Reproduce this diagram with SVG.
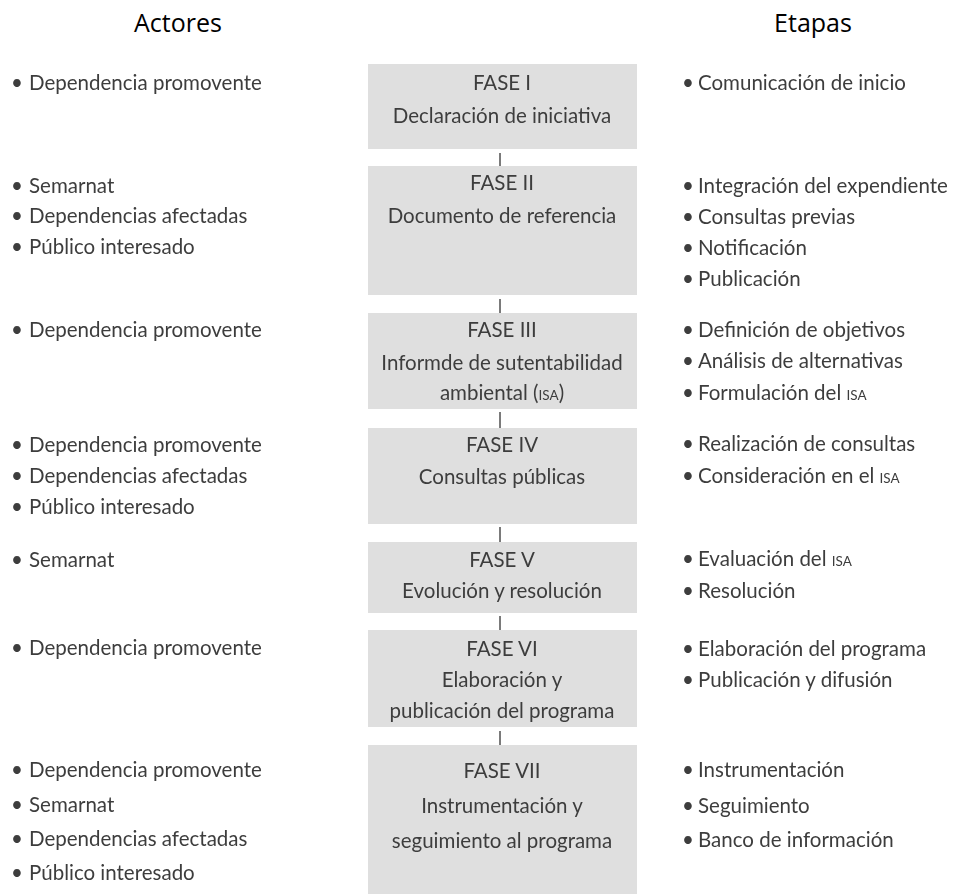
<svg xmlns="http://www.w3.org/2000/svg" width="956" height="894" viewBox="0 0 956 894">
  <defs>
    <filter id="soft" x="-5%" y="-5%" width="110%" height="110%">
      <feGaussianBlur stdDeviation="0.55"/>
    </filter>
  </defs>
  <style>
    .head { font-family: "Open Sans", "Liberation Sans", sans-serif; font-size: 25px; fill: #000; text-anchor: middle; }
    .box { fill: #dfdfdf; }
    .t { font-family: Lato, "Liberation Sans", sans-serif; font-size: 20.5px; fill: #3d3d3d; }
    .c { text-anchor: middle; }
    .sc { font-size: 13.5px; }
    .link { stroke: #5a5a5a; stroke-width: 1.6; fill: none; }
  </style>

  <rect width="956" height="894" fill="#fff"/>

  <!-- column headings -->
  <text class="head" x="178" y="32">Actores</text>
  <text class="head" x="813" y="32">Etapas</text>

  <g filter="url(#soft)">
    <!-- connectors between phases -->
    <g id="connectors">
      <line class="link" x1="500" y1="153" x2="500" y2="166"/>
      <line class="link" x1="500" y1="299" x2="500" y2="313"/>
      <line class="link" x1="500" y1="412" x2="500" y2="428"/>
      <line class="link" x1="500" y1="527" x2="500" y2="542"/>
      <line class="link" x1="500" y1="616" x2="500" y2="630"/>
      <line class="link" x1="500" y1="731" x2="500" y2="745"/>
    </g>

    <!-- phase boxes -->
    <g id="fase1">
      <rect class="box" x="368" y="64" width="269" height="85"/>
      <text class="t c" x="502" y="90">FASE I</text>
      <text class="t c" x="502" y="123">Declaración de iniciativa</text>
    </g>
    <g id="fase2">
      <rect class="box" x="368" y="166" width="269" height="129"/>
      <text class="t c" x="502" y="190">FASE II</text>
      <text class="t c" x="502" y="223">Documento de referencia</text>
    </g>
    <g id="fase3">
      <rect class="box" x="368" y="313" width="269" height="96"/>
      <text class="t c" x="502" y="337">FASE III</text>
      <text class="t c" x="502" y="370">Informde de sutentabilidad</text>
      <text class="t c" x="502" y="400">ambiental (<tspan class="sc">ISA</tspan>)</text>
    </g>
    <g id="fase4">
      <rect class="box" x="368" y="428" width="269" height="96"/>
      <text class="t c" x="502" y="452">FASE IV</text>
      <text class="t c" x="502" y="484">Consultas públicas</text>
    </g>
    <g id="fase5">
      <rect class="box" x="368" y="542" width="269" height="71"/>
      <text class="t c" x="502" y="567">FASE V</text>
      <text class="t c" x="502" y="598">Evolución y resolución</text>
    </g>
    <g id="fase6">
      <rect class="box" x="368" y="630" width="269" height="97"/>
      <text class="t c" x="502" y="656">FASE VI</text>
      <text class="t c" x="502" y="687">Elaboración y</text>
      <text class="t c" x="502" y="718">publicación del programa</text>
    </g>
    <g id="fase7">
      <rect class="box" x="368" y="745" width="269" height="149"/>
      <text class="t c" x="502" y="778">FASE VII</text>
      <text class="t c" x="502" y="813">Instrumentación y</text>
      <text class="t c" x="502" y="848">seguimiento al programa</text>
    </g>

    <!-- actors -->
    <g id="actores">
      <text class="t" x="11" y="90">•<tspan x="29">Dependencia promovente</tspan></text>
      <text class="t" x="11" y="193">•<tspan x="29">Semarnat</tspan></text>
      <text class="t" x="11" y="223">•<tspan x="29">Dependencias afectadas</tspan></text>
      <text class="t" x="11" y="254">•<tspan x="29">Público interesado</tspan></text>
      <text class="t" x="11" y="337">•<tspan x="29">Dependencia promovente</tspan></text>
      <text class="t" x="11" y="452">•<tspan x="29">Dependencia promovente</tspan></text>
      <text class="t" x="11" y="483">•<tspan x="29">Dependencias afectadas</tspan></text>
      <text class="t" x="11" y="514">•<tspan x="29">Público interesado</tspan></text>
      <text class="t" x="11" y="567">•<tspan x="29">Semarnat</tspan></text>
      <text class="t" x="11" y="655">•<tspan x="29">Dependencia promovente</tspan></text>
      <text class="t" x="11" y="777">•<tspan x="29">Dependencia promovente</tspan></text>
      <text class="t" x="11" y="812">•<tspan x="29">Semarnat</tspan></text>
      <text class="t" x="11" y="846">•<tspan x="29">Dependencias afectadas</tspan></text>
      <text class="t" x="11" y="880">•<tspan x="29">Público interesado</tspan></text>
    </g>

    <!-- stages -->
    <g id="etapas">
      <text class="t" x="682" y="90">•<tspan x="698">Comunicación de inicio</tspan></text>
      <text class="t" x="682" y="193">•<tspan x="698">Integración del expendiente</tspan></text>
      <text class="t" x="682" y="224">•<tspan x="698">Consultas previas</tspan></text>
      <text class="t" x="682" y="255">•<tspan x="698">Notificación</tspan></text>
      <text class="t" x="682" y="286">•<tspan x="698">Publicación</tspan></text>
      <text class="t" x="682" y="337">•<tspan x="698">Definición de objetivos</tspan></text>
      <text class="t" x="682" y="368">•<tspan x="698">Análisis de alternativas</tspan></text>
      <text class="t" x="682" y="400">•<tspan x="698">Formulación del <tspan class="sc">ISA</tspan></tspan></text>
      <text class="t" x="682" y="451">•<tspan x="698">Realización de consultas</tspan></text>
      <text class="t" x="682" y="483">•<tspan x="698">Consideración en el <tspan class="sc">ISA</tspan></tspan></text>
      <text class="t" x="682" y="566">•<tspan x="698">Evaluación del <tspan class="sc">ISA</tspan></tspan></text>
      <text class="t" x="682" y="598">•<tspan x="698">Resolución</tspan></text>
      <text class="t" x="682" y="656">•<tspan x="698">Elaboración del programa</tspan></text>
      <text class="t" x="682" y="687">•<tspan x="698">Publicación y difusión</tspan></text>
      <text class="t" x="682" y="777">•<tspan x="698">Instrumentación</tspan></text>
      <text class="t" x="682" y="813">•<tspan x="698">Seguimiento</tspan></text>
      <text class="t" x="682" y="847">•<tspan x="698">Banco de información</tspan></text>
    </g>
  </g>
</svg>
